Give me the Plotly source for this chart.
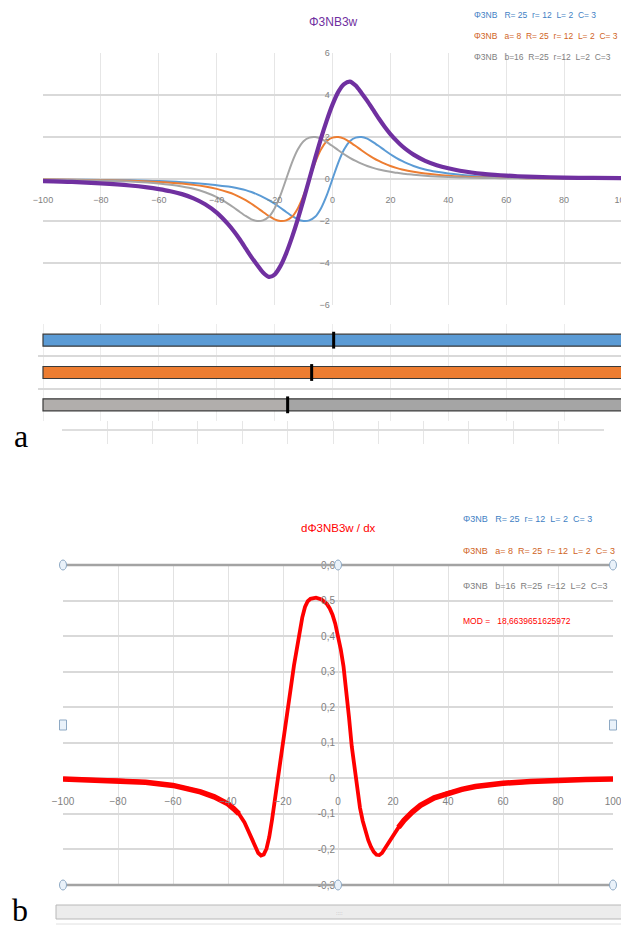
import plotly.graph_objects as go

# page window is 629x928; the page body adds an 8px margin, so the figure is 621x920
PAGE_OFF = 8
W, H = 629 - PAGE_OFF, 928 - PAGE_OFF

# ---------------- data : panel a ----------------
x_a = [-100, -90, -80, -70, -64, -60, -56, -52, -48, -44, -40,
       -36, -34, -32, -30, -28, -26, -24, -22, -20, -18, -16, -14, -12, -10, -8, -6, -4, -2,
       0, 2, 4, 6, 8, 10, 12, 14, 16, 18, 20, 22, 24, 26, 28,
       32, 36, 40, 44, 48, 52, 56, 60, 64, 70, 80, 90, 100]

phi_blue = [-0.02, -0.03, -0.045, -0.065, -0.085, -0.10, -0.12, -0.15, -0.185, -0.235, -0.30,
            -0.36, -0.40, -0.46, -0.53, -0.62, -0.73, -0.86, -1.01, -1.18, -1.37, -1.57, -1.76, -1.92, -2.00, -1.97, -1.80, -1.40, -0.78,
            0.0, 0.78, 1.40, 1.80, 1.97, 2.00, 1.92, 1.76, 1.57, 1.37, 1.18, 1.01, 0.86, 0.73, 0.62,
            0.45, 0.34, 0.26, 0.20, 0.155, 0.12, 0.095, 0.075, 0.06, 0.045, 0.03, 0.02, 0.015]

phi_orange = [-0.025, -0.037, -0.055, -0.085, -0.115, -0.14, -0.175, -0.22, -0.28, -0.36, -0.47,
              -0.63, -0.73, -0.86, -1.01, -1.18, -1.37, -1.57, -1.76, -1.92, -2.00, -1.97, -1.80, -1.40, -0.78, 0.0, 0.78, 1.40, 1.80,
              1.97, 2.00, 1.92, 1.76, 1.57, 1.37, 1.18, 1.01, 0.86, 0.73, 0.62, 0.53, 0.45, 0.39, 0.34,
              0.26, 0.20, 0.155, 0.12, 0.095, 0.075, 0.06, 0.05, 0.042, 0.033, 0.022, 0.016, 0.012]

phi_gray = [-0.032, -0.047, -0.07, -0.12, -0.17, -0.215, -0.275, -0.355, -0.46, -0.63, -0.86,
            -1.18, -1.37, -1.57, -1.76, -1.92, -2.00, -1.97, -1.80, -1.40, -0.78, 0.0, 0.78, 1.40, 1.80, 1.97, 2.00, 1.92, 1.76,
            1.57, 1.37, 1.18, 1.01, 0.86, 0.73, 0.62, 0.53, 0.45, 0.39, 0.34, 0.30, 0.26, 0.23, 0.20,
            0.155, 0.12, 0.095, 0.075, 0.06, 0.05, 0.042, 0.036, 0.03, 0.024, 0.017, 0.013, 0.010]

phi_3w = [-0.10, -0.14, -0.21, -0.31, -0.40, -0.48, -0.58, -0.72, -0.92, -1.20, -1.60,
          -2.16, -2.50, -2.88, -3.30, -3.72, -4.10, -4.45, -4.66, -4.55, -4.15, -3.54, -2.78, -1.92, -0.98, 0.0, 0.98, 1.92, 2.78,
          3.54, 4.15, 4.52, 4.64, 4.45, 4.10, 3.72, 3.30, 2.88, 2.49, 2.14, 1.84, 1.57, 1.35, 1.16,
          0.865, 0.66, 0.51, 0.395, 0.31, 0.245, 0.197, 0.161, 0.132, 0.102, 0.069, 0.049, 0.037]

# bars under panel a (centre of each soliton)
bar_names = ["Φ3NB", "Φ3NB a=8", "Φ3NB b=16"]
bar_start = [-100, -100, -100]
bar_end = [100, 100, 100]
bar_center = [0.4, -7.2, -15.5]

# ---------------- data : panel b ----------------
x_b = [-100, -90, -80, -70, -60, -55, -50, -45, -40, -38,
       -36, -34, -32, -30, -29, -28, -27, -26, -25, -24,
       -23, -22, -21, -20, -19, -18, -17, -16, -15, -14,
       -13, -12, -11, -10, -8, -6, -5, -4, -3, -2,
       -1, 0, 1, 2, 3, 4, 5, 6, 7, 8,
       9, 10, 11, 12, 13, 14, 15, 16, 18, 20,
       22, 24, 27, 30, 35, 40, 45, 50, 60, 70,
       80, 90, 100]
dphi_dx = [-0.002, -0.004, -0.006, -0.011, -0.02, -0.028, -0.038, -0.052, -0.072, -0.085,
           -0.100, -0.124, -0.158, -0.195, -0.210, -0.217, -0.214, -0.198, -0.165, -0.117,
           -0.065, -0.01, 0.045, 0.097, 0.15, 0.205, 0.263, 0.318, 0.368, 0.413,
           0.452, 0.482, 0.498, 0.505, 0.508, 0.503, 0.497, 0.49, 0.478, 0.46,
           0.435, 0.40, 0.363, 0.315, 0.252, 0.172, 0.09, 0.025, -0.035, -0.083,
           -0.12, -0.15, -0.174, -0.193, -0.207, -0.215, -0.216, -0.21, -0.185, -0.16,
           -0.138, -0.118, -0.095, -0.076, -0.055, -0.041, -0.031, -0.023, -0.014, -0.009,
           -0.005, -0.003, -0.002]

yb_tickvals = [-0.3, -0.2, -0.1, 0, 0.1, 0.2, 0.3, 0.4, 0.5, 0.6]
yb_ticktext = ["-0,3", "-0,2", "-0,1", "0", "0,1", "0,2", "0,3", "0,4", "0,5", "0,6"]

NB = "\u00a0"
legend_lines = ["Φ3NB" + NB * 3 + "R=" + NB + "25" + NB * 2 + "r=" + NB + "12" + NB * 2 + "L=" + NB + "2" + NB * 2 + "C=" + NB + "3",
                "Φ3NB" + NB * 3 + "a=" + NB + "8" + NB * 2 + "R=" + NB + "25" + NB * 2 + "r=" + NB + "12" + NB * 2 + "L=" + NB + "2" + NB * 2 + "C=" + NB + "3",
                "Φ3NB" + NB * 3 + "b=16" + NB * 2 + "R=25" + NB * 2 + "r=12" + NB * 2 + "L=2" + NB * 2 + "C=3"]
mod_text = "MOD" + NB + "=" + NB * 3 + "18,6639651625972"

# ---------------- styling ----------------
BLUE, ORANGE, GRAY, PURPLE, RED = "#5b9bd5", "#ed7d31", "#a5a5a5", "#7030a0", "#ff0000"
TXT_BLUE, TXT_ORANGE, TXT_GRAY = "#3f7fc4", "#d0641e", "#808080"
FONT = "Liberation Sans Narrow, Liberation Sans, Arial, sans-serif"
SERIF = "Liberation Serif, DejaVu Serif, Times New Roman, serif"


def px(p):
    return (p - PAGE_OFF) / W


def py(p):
    return 1 - (p - PAGE_OFF) / H


xa_dom = [px(43), px(622)]
ya_dom = [py(305), py(53)]
xa_rng = [-100, 100]
ya_rng = [-6, 6]
ya_zero = ya_dom[0] + (0 - ya_rng[0]) / (ya_rng[1] - ya_rng[0]) * (ya_dom[1] - ya_dom[0])
xa_zero = xa_dom[0] + (0 - xa_rng[0]) / (xa_rng[1] - xa_rng[0]) * (xa_dom[1] - xa_dom[0])

scale_a = (622 - 43) / 200.0
x2_rng = [-100 - (43 - 38) / scale_a, 100 + (629 - 622) / scale_a]

xb_dom = [px(63), px(613)]
yb_dom = [py(885), py(565)]
yb_rng = [-0.3, 0.6]
yb_zero = yb_dom[0] + (0 - yb_rng[0]) / (yb_rng[1] - yb_rng[0]) * (yb_dom[1] - yb_dom[0])
xb_zero = xb_dom[0] + 0.5 * (xb_dom[1] - xb_dom[0])

fig = go.Figure()

# panel a curves
for vals, col, w in [(phi_blue, BLUE, 2), (phi_orange, ORANGE, 2), (phi_gray, GRAY, 2), (phi_3w, PURPLE, 4.2)]:
    fig.add_trace(go.Scatter(x=x_a, y=vals, mode="lines", xaxis="x", yaxis="y",
                             line=dict(color=col, width=w, shape="spline", smoothing=0.7),
                             hoverinfo="skip", showlegend=False))

# bars
left_cols = [BLUE, ORANGE, "#b1aeac"]
right_cols = [BLUE, ORANGE, "#a5a5a5"]
fig.add_trace(go.Bar(y=bar_names, x=[c - s for c, s in zip(bar_center, bar_start)], base=bar_start,
                     orientation="h", width=0.37, xaxis="x2", yaxis="y2",
                     marker=dict(color=left_cols, line=dict(color="#3a3a3a", width=1.2)),
                     hoverinfo="skip", showlegend=False))
fig.add_trace(go.Bar(y=bar_names, x=[e - c for c, e in zip(bar_center, bar_end)], base=bar_center,
                     orientation="h", width=0.37, xaxis="x2", yaxis="y2",
                     marker=dict(color=right_cols, line=dict(color="#3a3a3a", width=1.2)),
                     hoverinfo="skip", showlegend=False))
fig.add_trace(go.Scatter(x=bar_center, y=bar_names, mode="markers", xaxis="x2", yaxis="y2",
                         marker=dict(symbol="line-ns", size=12, line=dict(color="black", width=3)),
                         hoverinfo="skip", showlegend=False))

# spreadsheet strip (empty)
fig.add_trace(go.Scatter(x=[None], y=[None], xaxis="x4", yaxis="y4", mode="lines",
                         hoverinfo="skip", showlegend=False))

# panel b curve
fig.add_trace(go.Scatter(x=x_b, y=dphi_dx, mode="lines", xaxis="x3", yaxis="y3",
                         line=dict(color=RED, width=3.8),
                         hoverinfo="skip", showlegend=False))
left_tail = [(x, v) for x, v in zip(x_b, dphi_dx) if x <= -36]
right_tail = [(x, v) for x, v in zip(x_b, dphi_dx) if x >= 22]
for seg in (left_tail, right_tail):
    fig.add_trace(go.Scatter(x=[s[0] for s in seg], y=[s[1] for s in seg], mode="lines",
                             xaxis="x3", yaxis="y3",
                             line=dict(color=RED, width=5.5),
                             hoverinfo="skip", showlegend=False))

tickfont_a = dict(family=FONT, size=9, color="#7f7f7f")
tickfont_b = dict(family=FONT, size=10, color="#7f7f7f")

fig.update_layout(
    width=W, height=H, margin=dict(l=0, r=0, t=0, b=0, pad=0, autoexpand=False),
    paper_bgcolor="white", plot_bgcolor="rgba(0,0,0,0)",
    showlegend=False, barmode="overlay",
    xaxis=dict(domain=xa_dom, range=xa_rng, dtick=20, anchor="free", position=ya_zero,
               showgrid=True, gridcolor="#e6e6e6", gridwidth=1, zeroline=False, showline=False,
               ticks="outside", ticklen=12, tickcolor="rgba(0,0,0,0)", tickfont=tickfont_a,
               ticklabeloverflow="allow"),
    yaxis=dict(domain=ya_dom, range=ya_rng, dtick=2, anchor="free", position=xa_zero,
               showgrid=True, gridcolor="#d9d9d9", gridwidth=1.5, zeroline=False, showline=False,
               ticks="outside", ticklen=1, tickcolor="rgba(0,0,0,0)", tickfont=tickfont_a),
    xaxis2=dict(domain=[px(38), 1.0], range=x2_rng, dtick=20, anchor="y2",
                showgrid=True, gridcolor="#ececec", zeroline=False, showline=False,
                showticklabels=False, ticks=""),
    yaxis2=dict(domain=[py(421), py(324)], type="category", categoryorder="array",
                categoryarray=bar_names, autorange="reversed", anchor="x2",
                tickson="boundaries", showgrid=True, gridcolor="#d9d9d9", gridwidth=1.5,
                showticklabels=False, ticks="", zeroline=False, showline=False),
    xaxis4=dict(domain=[px(62), px(604)], range=[0, 12], dtick=1, anchor="y4",
                showgrid=True, gridcolor="#e6e6e6", zeroline=False, showline=False,
                showticklabels=False, ticks=""),
    yaxis4=dict(domain=[py(444), py(421)], range=[0, 1], tickvals=[14 / 23.0], anchor="x4",
                showgrid=True, gridcolor="#dedede", gridwidth=1.5, zeroline=False,
                showticklabels=False, ticks=""),
    xaxis3=dict(domain=xb_dom, range=[-100, 100], dtick=20, anchor="free", position=yb_zero,
                showgrid=True, gridcolor="#e2e2e2", gridwidth=1, zeroline=False, showline=False,
                ticks="outside", ticklen=14, tickcolor="rgba(0,0,0,0)", tickfont=tickfont_b,
                ticklabeloverflow="allow"),
    yaxis3=dict(domain=yb_dom, range=yb_rng, tickvals=yb_tickvals, ticktext=yb_ticktext,
                anchor="free", position=xb_zero,
                showgrid=True, gridcolor="#d9d9d9", gridwidth=1.5, zeroline=False, showline=False,
                ticks="outside", ticklen=1, tickcolor="rgba(0,0,0,0)", tickfont=tickfont_b),
)

ann = []
# panel a title & legend
ann.append(dict(text="Φ3NB3w", x=px(333), y=py(22), xref="paper", yref="paper", showarrow=False,
                font=dict(family=FONT, size=12, color=PURPLE), xanchor="center", yanchor="middle"))
for txt, col, yy in zip(legend_lines, [TXT_BLUE, TXT_ORANGE, TXT_GRAY], [15, 36, 57]):
    ann.append(dict(text=txt, x=px(472), y=py(yy), xref="paper", yref="paper", showarrow=False,
                    font=dict(family=FONT, size=8.5, color=col), xanchor="left", yanchor="middle"))
# panel b title & legend
ann.append(dict(text="dΦ3NB3w" + NB + "/" + NB + "dx", x=px(338), y=py(528), xref="paper", yref="paper",
                showarrow=False, font=dict(family=FONT, size=11.5, color=RED), xanchor="center", yanchor="middle"))
for txt, col, yy, fs in zip(legend_lines + [mod_text], [TXT_BLUE, TXT_ORANGE, TXT_GRAY, RED],
                            [519, 551, 586, 621], [9, 9, 9, 8.5]):
    ann.append(dict(text=txt, x=px(461), y=py(yy), xref="paper", yref="paper", showarrow=False,
                    font=dict(family=FONT, size=fs, color=col), xanchor="left", yanchor="middle"))
# panel letters
ann.append(dict(text="a", x=px(21), y=py(436), xref="paper", yref="paper", showarrow=False,
                font=dict(family=SERIF, size=32, color="black"), xanchor="center", yanchor="middle"))
ann.append(dict(text="b", x=px(20), y=py(910), xref="paper", yref="paper", showarrow=False,
                font=dict(family=SERIF, size=32, color="black"), xanchor="center", yanchor="middle"))
ann.append(dict(text="::::", x=px(339), y=py(913), xref="paper", yref="paper", showarrow=False,
                font=dict(family=FONT, size=6, color="#b0b0b0"), xanchor="center", yanchor="middle"))

shapes = []
# panel b frame (selected chart look)
for yv in (0, 1):
    shapes.append(dict(type="line", xref="x3 domain", yref="y3 domain", x0=0, x1=1, y0=yv, y1=yv,
                       line=dict(color="#a3a3a3", width=2.5), layer="above"))
for xa_, ya_, kind in [(0, 0, "circle"), (0.5, 0, "circle"), (1, 0, "circle"),
                       (0, 1, "circle"), (0.5, 1, "circle"), (1, 1, "circle"),
                       (0, 0.5, "rect"), (1, 0.5, "rect")]:
    shapes.append(dict(type=kind, xref="x3 domain", yref="y3 domain", xsizemode="pixel", ysizemode="pixel",
                       xanchor=xa_, yanchor=ya_, x0=-3.5, x1=3.5, y0=-5, y1=5,
                       fillcolor="#eaf2fa", line=dict(color="#8ea9c4", width=1), layer="above"))
# scrollbar strip below panel b
shapes.append(dict(type="rect", xref="paper", yref="paper", x0=px(56), x1=px(623), y0=py(919), y1=py(905),
                   fillcolor="#ececec", line=dict(color="#b8b8b8", width=1), layer="below"))
shapes.append(dict(type="line", xref="paper", yref="paper", x0=px(56), x1=px(623), y0=py(924), y1=py(924),
                   line=dict(color="#e0e0e0", width=1), layer="below"))

fig.update_layout(annotations=ann, shapes=shapes)

fig.write_html("out.html")
